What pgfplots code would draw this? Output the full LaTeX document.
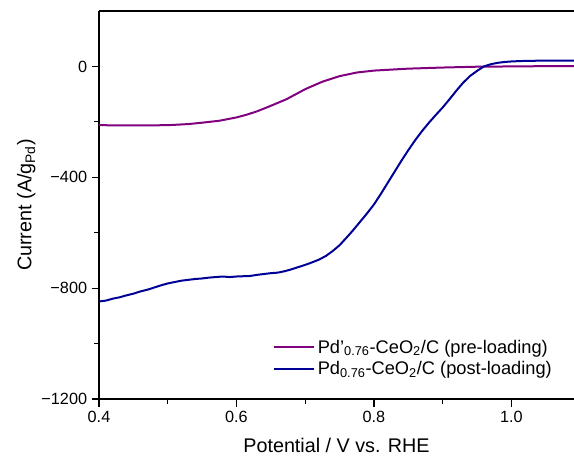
\documentclass[border=0pt]{standalone}
\usepackage{pgfplots}
\pgfplotsset{compat=1.18}
\usepackage{fontspec}
\setmainfont{Liberation Sans}
\definecolor{prec}{RGB}{128,0,128}
\definecolor{postc}{RGB}{0,0,150}
\begin{document}
\begin{tikzpicture}
\path[use as bounding box] (0,0) rectangle (459.2pt,367.2pt);
\begin{axis}[
  at={(79.2pt,48pt)}, anchor=south west,
  scale only axis, width=380pt, height=310.4pt,
  xmin=0.4, xmax=1.091, ymin=-1200, ymax=200,
  axis lines*=left,
  axis line style={line width=0.9pt},
  clip=false,
  xtick={0.4,0.6,0.8,1.0}, minor xtick={0.5,0.7,0.9},
  ytick={-1200,-800,-400,0}, minor ytick={-1000,-600,-200},
  xticklabels={0.4,0.6,0.8,1.0},
  yticklabels={−1200,−800,−400,0},
  tick align=outside, tick pos=left,
  major tick length=6pt, minor tick length=4pt,
  every tick/.style={black, line width=0.9pt},
  tick label style={font=\fontsize{13}{15}\selectfont},
  /pgf/number format/assume math mode=true,
  xlabel={Potential / V vs. RHE},
  ylabel={Current (A/g\textsubscript{Pd})},
  label style={font=\fontsize{15.8}{18}\selectfont},
  xlabel style={yshift=-6pt},
  ylabel style={yshift=-2pt},
  legend style={at={(0.967,0.045)}, anchor=south east, draw=none, fill=none,
    font=\fontsize{14.6}{16}\selectfont, row sep=1pt},
  legend cell align=left,
  legend image code/.code={\draw[#1, line width=1.6pt] (0pt,0pt) -- (32pt,0pt);},
]
\draw[line width=0.9pt] (rel axis cs:0,1) -- (rel axis cs:1,1);
\addplot[prec, line width=1.6pt] coordinates {
  (0.40,-212)(0.45,-213)(0.50,-212)(0.53,-208)(0.55,-203)(0.575,-196)(0.60,-184)
  (0.615,-174)(0.63,-162)(0.65,-142)(0.673,-118)(0.70,-82)(0.725,-55)(0.75,-35)
  (0.775,-22)(0.80,-15)(0.85,-8)(0.90,-4)(0.95,-1)(1.00,0)(1.05,1)(1.091,1)
};
\addlegendentry{Pd'\textsubscript{0.76}-CeO\textsubscript{2}/C (pre-loading)}
\addplot[postc, line width=1.6pt] coordinates {
  (0.40,-848)(0.41,-845)(0.42,-838)(0.43,-833)(0.44,-826)(0.45,-820)(0.46,-812)
  (0.47,-806)(0.48,-798)(0.49,-790)(0.50,-783)(0.51,-778)(0.52,-773)(0.53,-770)
  (0.54,-767)(0.55,-765)(0.56,-762)(0.57,-760)(0.58,-758)(0.59,-760)(0.60,-758)
  (0.61,-757)(0.62,-756)(0.63,-752)(0.64,-749)(0.65,-746)(0.66,-744)(0.67,-739)
  (0.68,-732)(0.69,-724)(0.70,-716)(0.71,-707)(0.72,-697)(0.73,-684)(0.74,-666)
  (0.75,-645)(0.76,-618)(0.77,-590)(0.78,-560)(0.79,-530)(0.80,-498)(0.81,-460)
  (0.82,-420)(0.83,-380)(0.84,-340)(0.85,-302)(0.86,-266)(0.87,-233)(0.88,-203)
  (0.89,-175)(0.90,-148)(0.91,-118)(0.92,-87)(0.93,-58)(0.94,-34)(0.95,-16)(0.96,0)
  (0.97,8)(0.98,13)(0.99,16)(1.00,18)(1.02,20)(1.05,21)(1.091,21)
};
\addlegendentry{Pd\textsubscript{0.76}-CeO\textsubscript{2}/C (post-loading)}
\end{axis}
\end{tikzpicture}
\end{document}
